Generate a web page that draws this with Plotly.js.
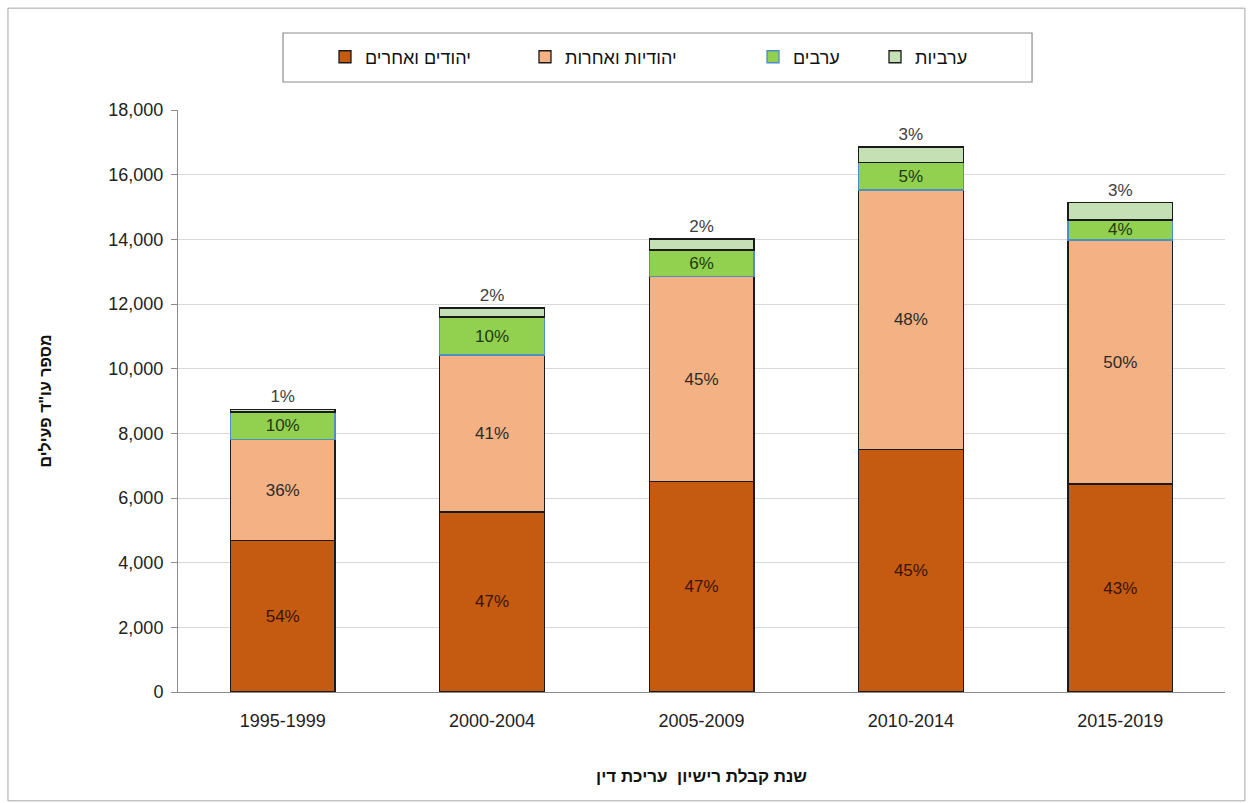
<!DOCTYPE html>
<html><head><meta charset="utf-8">
<script src="https://cdn.plot.ly/plotly-3.0.1.min.js"></script>
<style>body{margin:0;background:#fff}#chart{width:1255px;height:803px}</style>
</head><body><div id="chart"></div>
<script>
const periods = ['1995-1999','2000-2004','2005-2009','2010-2014','2015-2019'];
const jewishMen = [4680, 5570, 6500, 7490, 6430];
const jewishWomen = [3130, 4850, 6340, 8040, 7550];
const arabMen = [850, 1180, 830, 840, 620];
const arabWomen = [80, 280, 340, 490, 530];
const pctJewishMen = ['54%','47%','47%','45%','43%'];
const pctJewishWomen = ['36%','41%','45%','48%','50%'];
const pctArabMen = ['10%','10%','6%','5%','4%'];
const pctArabWomen = ['1%','2%','2%','3%','3%'];
const names = ['יהודים ואחרים','יהודיות ואחרות','ערבים','ערביות'];

const F = 'Liberation Sans, Arial, DejaVu Sans, sans-serif';
function tr(name, y, text, color, lineColor, pos, tcolor, leg){
  return {type:'bar', name:name, x:periods, y:y, text:text, textposition:pos, legend:leg,
    insidetextanchor:'middle', constraintext:'none', cliponaxis:false,
    textfont:{family:F,size:17,color:tcolor},
    marker:{color:color, line:{color:lineColor,width:1.3}}, hoverinfo:'skip'};
}
const data = [
  tr(names[0], jewishMen, pctJewishMen, '#C55A11', '#1a1a1a', 'inside', '#3a1405', 'legend'),
  tr(names[1], jewishWomen, pctJewishWomen, '#F4B183', '#1a1a1a', 'inside', '#2b2b2b', 'legend2'),
  tr(names[2], arabMen, pctArabMen, '#92D050', '#4B8FC4', 'inside', '#1f3a10', 'legend3'),
  tr(names[3], arabWomen, pctArabWomen, '#C5E0B4', '#1a1a1a', 'outside', '#404040', 'legend4')
];
function leg(xpx){
  return {orientation:'h', x:(xpx-178)/1047, xanchor:'left', y:1.091, yanchor:'middle',
    font:{family:F,size:18,color:'#111'}, itemwidth:30, bgcolor:'rgba(0,0,0,0)'};
}
const layout = {
  width:1255, height:803, barmode:'stack', bargap:0.5,
  margin:{l:178, r:30, t:110, b:111},
  paper_bgcolor:'#fff', plot_bgcolor:'#fff',
  font:{family:F, size:16, color:'#222'},
  showlegend:true,
  legend:leg(325), legend2:leg(525), legend3:leg(753), legend4:leg(875),
  xaxis:{type:'category', showline:true, linecolor:'#8c8c8c', linewidth:1,
    ticks:'', ticklabelstandoff:12, tickfont:{family:F,size:18,color:'#222'},
    title:{text:'<b>שנת קבלת רישיון  עריכת דין</b>', font:{family:F,size:17,color:'#111'}, standoff:40}},
  yaxis:{range:[0,18000], dtick:2000, tickformat:',d', showgrid:true, gridcolor:'#d9d9d9',
    showline:true, linecolor:'#8c8c8c', ticks:'outside', ticklen:6, tickcolor:'#8c8c8c',
    ticklabelstandoff:4,
    tickfont:{family:F,size:18,color:'#222'}, zeroline:false,
    title:{text:'<b>מספר עו"ד פעילים</b>', font:{family:F,size:16,color:'#111'}, standoff:52}},
  shapes:[
    {type:'rect', xref:'paper', yref:'paper', x0:-0.1624, x1:1.019, y0:-0.187, y1:1.175,
      line:{color:'#a6a6a6', width:1}, fillcolor:'rgba(0,0,0,0)', layer:'below'},
    {type:'rect', xref:'paper', yref:'paper', x0:0.1003, x1:0.8157, y0:1.0481, y1:1.1323,
      line:{color:'#8c8c8c', width:1.2}, fillcolor:'rgba(0,0,0,0)'}
  ]
};
Plotly.newPlot('chart', data, layout, {displayModeBar:false, staticPlot:true});
</script></body></html>
